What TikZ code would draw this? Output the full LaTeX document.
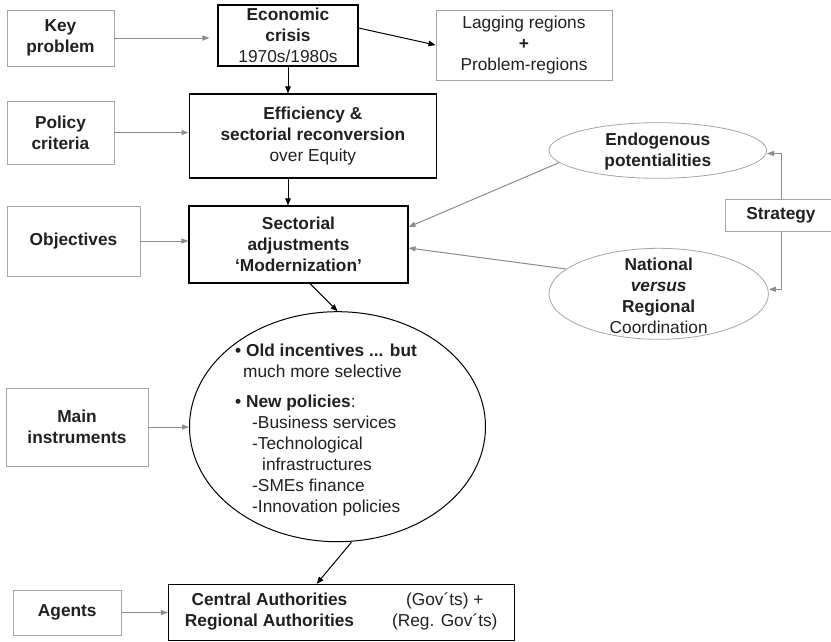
\documentclass[tikz,border=0pt]{standalone}
\usepackage{fontspec}
\setmainfont{Liberation Sans}
\usetikzlibrary{arrows.meta,calc,shapes.geometric}
\definecolor{boxgray}{RGB}{165,165,165}
\definecolor{arrgray}{RGB}{140,140,140}
\definecolor{txt}{RGB}{35,31,32}
\tikzset{
  every node/.style={font=\fontsize{17.3}{21}\selectfont, text=txt},
  graybox/.style={draw=boxgray, line width=0.9pt, rectangle, align=center, inner sep=0pt},
  blackbox/.style={draw=black, line width=1.1pt, rectangle, align=center, inner sep=0pt},
  grayell/.style={draw=boxgray, line width=0.8pt, ellipse, inner sep=0pt},
  blackell/.style={draw=black, line width=1pt, ellipse, inner sep=0pt},
  lbl/.style={align=center, inner sep=0pt},
  garrow/.style={draw=arrgray, line width=1pt, -{Triangle[length=7pt,width=5pt]}, arrgray},
  barrow/.style={draw=black, line width=1pt, -{Triangle[length=7pt,width=5.5pt]}},
}
\begin{document}
\begin{tikzpicture}[x=1pt,y=-1pt]
\useasboundingbox (0,0) rectangle (831,641);
% left column
\node[graybox, minimum width=107pt, minimum height=56pt] (keyp) at (60.5,38) {\textbf{Key}\\\textbf{problem}};
\node[graybox, minimum width=107pt, minimum height=63pt] (policy) at (60.5,132.5) {\textbf{Policy}\\\textbf{criteria}};
\node[graybox, minimum width=133pt, minimum height=70pt] (obj) at (73.5,241) {\textbf{Objectives}};
\node[graybox, minimum width=142pt, minimum height=78pt] (main) at (77,427) {\textbf{Main}\\\textbf{instruments}};
\node[graybox, minimum width=108.7pt, minimum height=45pt] (agents) at (67.3,612.5) {\textbf{Agents}};
% central column
\node[blackbox, minimum width=140pt, minimum height=61pt] (econ) at (288,35.5) {\textbf{Economic}\\\textbf{crisis}\\1970s/1980s};
\node[graybox, minimum width=176pt, minimum height=70pt] (lag) at (524,45) {Lagging regions\\\textbf{+}\\Problem-regions};
\node[blackbox, minimum width=247.7pt, minimum height=84pt] (eff) at (312.9,136) {\textbf{Efficiency \&}\\\textbf{sectorial reconversion}\\over Equity};
\node[blackbox, minimum width=219pt, minimum height=77pt] (sect) at (298.5,244.5) {\textbf{Sectorial}\\\textbf{adjustments}\\\textbf{‘Modernization’}};
\node[blackell, minimum width=296pt, minimum height=230pt] (big) at (337.5,426.7) {};
\node[lbl, anchor=west, align=left] (bigtxt) at (235,430) {\textbf{• Old incentives ... but}\\
\hspace*{8pt}much more selective\\[9.7pt]
\textbf{• New policies}:\\
\hspace*{17pt}-Business services\\
\hspace*{17pt}-Technological\\
\hspace*{27pt}infrastructures\\
\hspace*{17pt}-SMEs finance\\
\hspace*{17pt}-Innovation policies};
\node[blackbox, minimum width=345.7pt, minimum height=55.7pt] (auth) at (341.2,612.2) {%
\begin{tabular}{@{}c@{\hspace{38pt}}c@{}}
\textbf{Central Authorities} & (Gov´ts) +\\
\textbf{Regional Authorities} & (Reg. Gov´ts)
\end{tabular}};
% right side
\node[grayell, minimum width=217.6pt, minimum height=55.6pt] (endo) at (657.8,150.5) {};
\node[lbl] (endotxt) at (657.8,152) {\textbf{Endogenous}\\\textbf{potentialities}};
\node[grayell, minimum width=219.4pt, minimum height=91pt] (nat) at (658.7,293.8) {};
\node[lbl] (nattxt) at (658.7,296) {\textbf{National}\\\textbf{\itshape versus}\\\textbf{Regional}\\Coordination};
\node[graybox, minimum width=112pt, minimum height=32pt] (strat) at (781,215.2) {\textbf{Strategy}};
% connectors
\draw[garrow, shorten >=8pt] (keyp) -- (econ.west |- keyp);
\draw[barrow] ($(econ.east)+(0,-7.5)$) -- (lag.west);
\draw[barrow] (econ.south -| 288,0) -- (eff.north -| 288,0);
\draw[garrow] (policy) -- (eff.west |- policy);
\draw[barrow] (eff.south -| 288,0) -- (sect.north -| 288,0);
\draw[garrow] (obj) -- (sect.west |- obj);
\draw[garrow] (endo.187.6) -- ($(sect.east)+(0,-17.5)$);
\draw[garrow] (nat.165.5) -- ($(sect.east)+(0,3.5)$);
\draw[garrow] (strat.north) |- ($(endo.east)+(0,3)$);
\draw[garrow] (strat.south) |- ($(nat.east)+(0,-4.5)$);
\draw[barrow] ($(sect.south)+(11.5,0)$) -- (big.north);
\draw[garrow] (main) -- (big.west |- main);
\draw[barrow] ($(big.south)+(14,0)$) -- ($(auth.north)+(-24.5,0)$);
\draw[garrow] (agents) -- (auth.west |- agents);
\end{tikzpicture}
\end{document}
